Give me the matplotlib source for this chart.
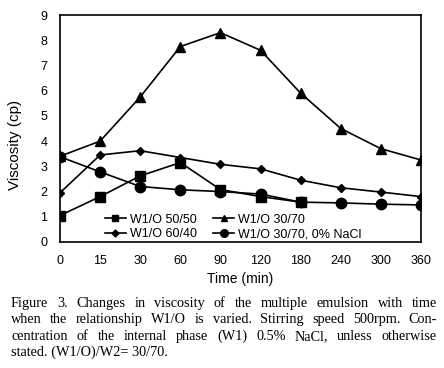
import matplotlib
matplotlib.use("Agg")
import matplotlib.pyplot as plt
import numpy as np

times = ["0", "15", "30", "60", "90", "120", "180", "240", "300", "360"]
w5050 = [1.05, 1.8, 2.62, 3.15, 2.08, 1.8, 1.58]
w3070 = [3.4, 4.0, 5.75, 7.75, 8.3, 7.6, 5.9, 4.5, 3.7, 3.25]
w6040 = [1.95, 3.45, 3.62, 3.35, 3.08, 2.9, 2.45, 2.15, 1.98, 1.8]
w3070_nacl = [3.38, 2.78, 2.2, 2.07, 2.0, 1.9, 1.58, 1.55, 1.5, 1.47]
labels = ["W1/O 50/50", "W1/O 30/70", "W1/O 60/40", "W1/O 30/70, 0% NaCl"]
yticks = list(range(0, 10))

caption_lines = [
    "Figure 3. Changes in viscosity of the multiple emulsion with time",
    "when the relationship W1/O is varied. Stirring speed 500rpm. Con-",
    "centration of the internal phase (W1) 0.5% NaCl, unless otherwise",
    "stated. (W1/O)/W2= 30/70.",
]

fig = plt.figure(figsize=(4.44, 3.68), dpi=100)
ax = fig.add_axes([60/444, 1-242/368, (421-60)/444, (242-15)/368])
sans = "Liberation Sans"
x = np.arange(len(times))
kw = dict(color="black", lw=1.2)
l1, = ax.plot(x[:len(w5050)], w5050, marker="s", ms=7, **kw)
l2, = ax.plot(x, w3070, marker="^", ms=7.5, **kw)
l3, = ax.plot(x, w6040, marker="D", ms=4.5, **kw)
l4, = ax.plot(x, w3070_nacl, marker="o", ms=7.5, **kw)
ax.set_xlim(0, len(times)-1)
ax.set_ylim(0, 9)
ax.set_xticks(x)
ax.set_xticklabels(times, fontfamily=sans, fontsize=9)
ax.set_yticks(yticks)
ax.set_yticklabels([str(v) for v in yticks], fontfamily=sans, fontsize=9)
ax.tick_params(length=0, pad=9)
for s in ax.spines.values():
    s.set_linewidth(1.2)
ax.set_xlabel("Time (min)", fontfamily=sans, fontsize=10, labelpad=4)
ax.set_ylabel("Viscosity (cp)", fontfamily=sans, fontsize=11)
ax.yaxis.set_label_coords(-0.105, 0.427)

h1 = plt.Line2D([], [], color="black", lw=1.2, marker="s", ms=5)
h2 = plt.Line2D([], [], color="black", lw=1.2, marker="^", ms=5)
h3 = plt.Line2D([], [], color="black", lw=1.2, marker="D", ms=3.5)
h4 = plt.Line2D([], [], color="black", lw=1.2, marker="o", ms=5.5)
leg = ax.legend([h1, h3, h2, h4], [labels[0], labels[2], labels[1], labels[3]],
                ncol=2, frameon=False,
                loc="lower left", bbox_to_anchor=(0.10, -0.03),
                prop={"family": sans, "size": 9}, handlelength=1.7,
                handletextpad=0.3, columnspacing=1.3, labelspacing=0.2,
                borderpad=0.2)

# justified caption
fig.canvas.draw()
r = fig.canvas.get_renderer()
left_px, right_px = 11, 437
ys = [307, 323, 340, 356]
serif = "Liberation Serif"
fs = 10.3
for i, line in enumerate(caption_lines):
    yfig = 1 - ys[i]/368
    if i == len(caption_lines) - 1:
        fig.text(left_px/444, yfig, line, fontfamily=serif, fontsize=fs, va="baseline", ha="left")
        continue
    words = line.split(" ")
    ts = [fig.text(0, yfig, w, fontfamily=serif, fontsize=fs, va="baseline", ha="left") for w in words]
    widths = [t.get_window_extent(r).width for t in ts]
    gap = (right_px - left_px - sum(widths)) / (len(words) - 1)
    xp = left_px
    for t, w in zip(ts, widths):
        t.set_x(xp/444)
        xp += w + gap

fig.savefig("out.png", dpi=100)
